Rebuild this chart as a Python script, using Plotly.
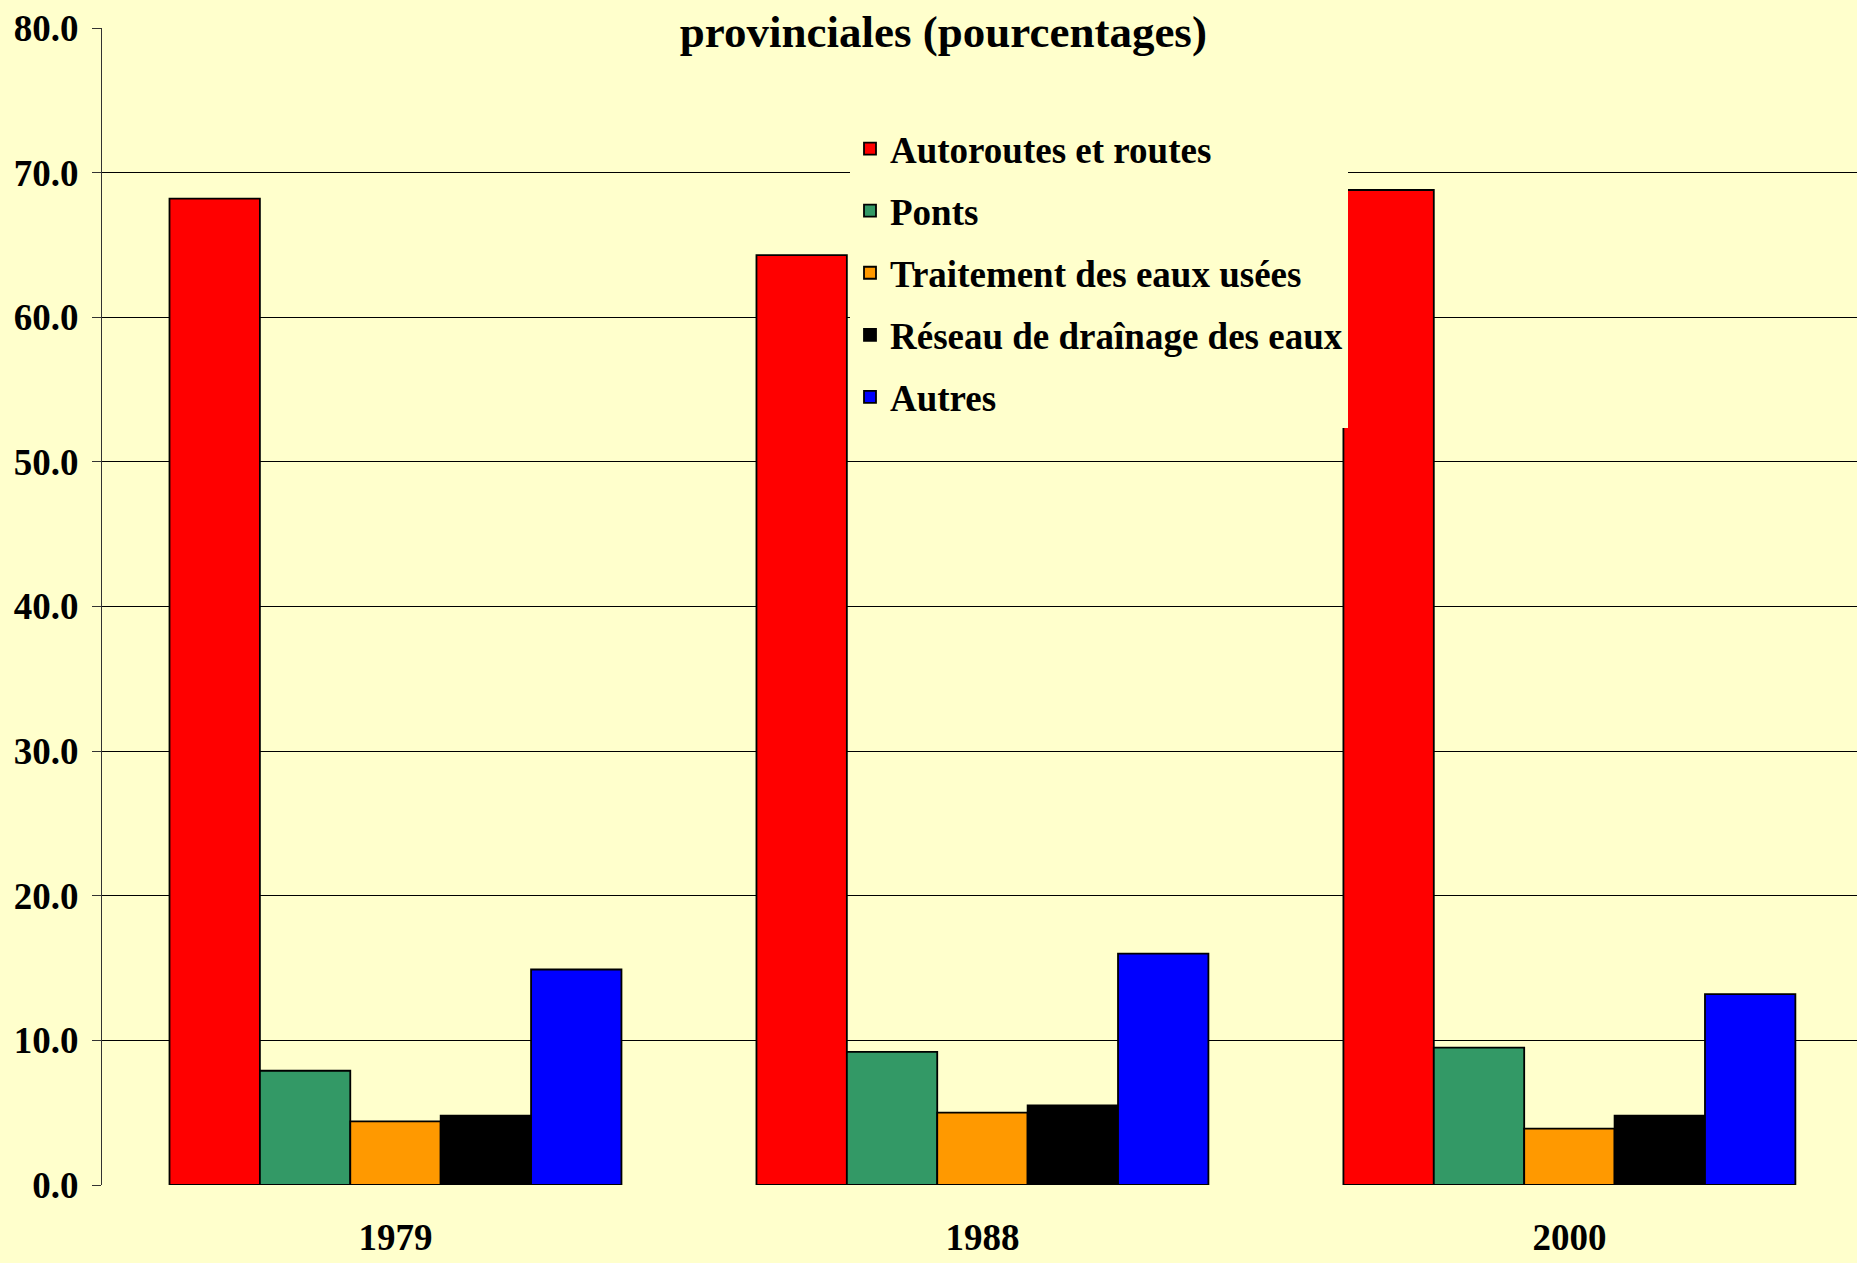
import plotly.graph_objects as go

years = ["1979", "1988", "2000"]
series_names = ["Autoroutes et routes", "Ponts", "Traitement des eaux usées",
                "Réseau de draînage des eaux", "Autres"]
autoroutes = [68.2, 64.3, 68.8]
ponts = [7.9, 9.2, 9.5]
traitement = [4.4, 5.0, 3.9]
drainage = [4.8, 5.5, 4.8]
autres = [14.9, 16.0, 13.2]
colors = ["#FF0000", "#339966", "#FF9900", "#000000", "#0000FF"]
y_ticks = [0, 10, 20, 30, 40, 50, 60, 70, 80]
grid_vals = [10, 20, 30, 40, 50, 60, 70]
title_text = "provinciales (pourcentages)"

FONT = "Liberation Serif, DejaVu Serif, serif"
BG = "#FFFFCC"

fig = go.Figure()
for name, vals, col in zip(series_names, [autoroutes, ponts, traitement, drainage, autres], colors):
    fig.add_trace(go.Bar(
        x=years, y=vals, name=name, legendgroup=name,
        marker=dict(color=col, line=dict(color="black", width=1.8)),
    ))

fig.update_layout(
    width=1857, height=1263, autosize=False,
    paper_bgcolor=BG, plot_bgcolor=BG,
    barmode="group", bargap=0.23, bargroupgap=0,
    margin=dict(l=102, r=0, t=28, b=78, autoexpand=False),
    font=dict(family=FONT, size=36, color="black", weight="bold"),
    title=dict(text=title_text, x=0.508, xref="container", y=0.975, yref="container",
               xanchor="center", yanchor="middle",
               font=dict(family=FONT, size=45, color="black", weight="bold")),
    legend=dict(
        x=(850 - 102) / 1755, y=(1185 - 118) / 1157, xref="paper", yref="paper",
        xanchor="left", yanchor="top",
        bgcolor=BG, borderwidth=0,
        font=dict(family=FONT, size=37, color="black", weight="bold"),
        tracegroupgap=11, itemwidth=30,
    ),
    showlegend=True,
)
fig.update_xaxes(
    range=[-0.5, 2.49], showgrid=False, showline=False, zeroline=False,
    ticks="", ticklabelstandoff=27,
    tickfont=dict(family=FONT, size=37, color="black", weight="bold"),
)
fig.update_yaxes(
    range=[0, 80], tickvals=y_ticks, ticktext=[f"{v:.1f}" for v in y_ticks],
    showgrid=False, zeroline=False,
    showline=True, linecolor="#333333", linewidth=1,
    ticks="outside", ticklen=9, tickcolor="#333333", ticklabelstandoff=6,
    tickfont=dict(family=FONT, size=37, color="black", weight="bold"),
    minor=dict(tickvals=grid_vals, showgrid=True, gridcolor="black", gridwidth=1, ticklen=0),
)

fig.write_html("out.html", config={"displayModeBar": False},
               post_script="document.body.style.margin='0';")
